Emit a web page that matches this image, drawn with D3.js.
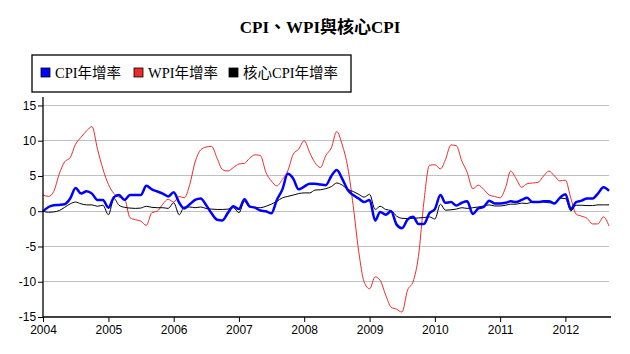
<!DOCTYPE html>
<html>
<head>
<meta charset="utf-8">
<script src="https://cdn.jsdelivr.net/npm/d3@7"></script>
<style>
  body { margin: 0; background: #fff; }
  svg { display: block; }
</style>
</head>
<body>
<div id="chart"></div>
<script>
// monthly data, Jan 2004 .. Sep 2012
const startMonth = "2004-01";
const seriesNames = ["CPI年增率", "WPI年增率", "核心CPI年增率"];
const seriesColors = ["#0000ff", "#ee2a2a", "#000000"];

const cpi = [
  0.0, 0.6, 0.85, 0.9, 1.0, 1.8, 3.3, 2.5, 2.85, 2.5, 1.6, 1.6,
  0.5, 2.0, 2.3, 1.6, 2.3, 2.3, 2.3, 3.6, 3.1, 2.8, 2.5, 2.1,
  2.7, 1.2, 0.4, 1.0, 1.6, 1.8, 0.9, -0.3, -1.2, -1.3, -0.2, 0.7,
  0.3, 1.7, 0.7, 0.5, 0.1, 0.0, -0.3, 1.6, 3.1, 5.3, 4.6, 3.1,
  3.5, 3.9, 3.9, 3.8, 3.7, 5.0, 5.85, 4.6, 3.0, 2.3, 1.8, 1.3,
  1.6, -1.3, -0.1, -0.5, 0.0, -1.9, -2.4, -1.2, -0.8, -1.8, -1.8, -0.3,
  0.3, 2.3, 1.2, 1.3, 0.8, 1.2, 1.4, -0.4, 0.4, 0.6, 1.5, 1.1,
  1.1, 1.2, 1.4, 1.3, 1.6, 1.9, 1.3, 1.3, 1.4, 1.4, 1.1, 1.9,
  2.4, 0.3, 1.3, 1.5, 1.8, 1.8, 2.5, 3.4, 2.9
];

const wpi = [
  2.3, 2.1, 2.8, 5.3, 7.0, 7.6, 9.5, 10.5, 11.4, 12.0, 8.8, 6.0,
  3.8, 2.5, 2.0, 1.8, -0.9, -1.2, -1.4, -2.0, -0.2, 0.0, 1.0, 1.7,
  1.3, 2.1, 1.9, 3.8, 7.0, 8.7, 9.1, 9.2, 7.5, 5.9, 5.7, 6.2,
  6.7, 6.8, 7.5, 8.0, 7.9, 5.5, 4.3, 3.6, 4.5, 5.7, 8.1, 8.8,
  10.0, 8.3, 6.9, 6.2, 7.9, 9.0, 11.3, 9.4, 6.2, 0.8, -5.7, -10.0,
  -11.0, -9.3, -9.8, -11.9, -13.6, -13.9, -14.3, -11.2, -10.0, -6.4, 1.4, 6.5,
  6.6, 6.0, 7.3, 9.4, 9.3, 7.1, 5.5, 3.2, 3.7, 3.1, 2.3, 2.1,
  1.9, 3.4, 5.7, 4.6, 3.4, 3.9, 4.0, 4.1, 5.0, 5.7, 5.0, 4.3,
  4.4, 1.8, -0.4, -0.7, -1.0, -1.8, -1.8, -0.8, -2.1
];

const coreCpi = [
  0.0, -0.15, -0.1, 0.1, 0.55, 1.05, 1.3, 1.05, 0.9, 0.9, 0.7, 0.85,
  -0.5, 1.8, 0.85, 0.55, 0.45, 0.4, 0.45, 0.7, 0.55, 0.5, 0.5, 0.4,
  1.2, -0.5, 0.6, 0.6, 0.5, 0.6, 0.4, 0.3, 0.25, 0.25, 0.3, 0.5,
  -0.2, 1.4, 0.6, 0.5, 0.5, 0.7, 1.0, 1.4, 1.9, 2.1, 2.3, 2.5,
  2.6, 2.6, 3.0, 3.05, 3.2, 3.5, 4.0, 3.7, 3.1, 2.8, 2.4, 2.0,
  2.4, 0.25, 0.7, 0.25, 0.1, -0.7, -1.0, -1.05, -1.0, -0.95, -0.9, -0.8,
  -1.1, 1.0, 0.15, 0.2, 0.3, 0.5, 0.4, 0.5, 0.6, 0.75, 0.9, 0.75,
  0.75, 0.85, 1.0, 1.0, 1.15, 1.1, 1.3, 1.3, 1.3, 1.2, 1.2, 1.85,
  1.8, 0.05, 0.85, 0.85, 0.8, 0.8, 0.9, 0.9, 0.9
];

const yTicks = [-15, -10, -5, 0, 5, 10, 15];
const xTickYears = [2004, 2005, 2006, 2007, 2008, 2009, 2010, 2011, 2012];

const width = 630, height = 354;
const plot = { left: 43, right: 609, top: 97, bottom: 317 };

const parse = d3.timeParse("%Y-%m");
const start = parse(startMonth);
const dates = cpi.map((_, i) => d3.timeMonth.offset(start, i));

const x = d3.scaleTime()
    .domain(d3.extent(dates))
    .range([plot.left, plot.right]);

const y = d3.scaleLinear()
    .domain([-15, 16.2])
    .range([plot.bottom, plot.top]);

const svg = d3.select("#chart")
    .append("svg")
    .attr("width", width)
    .attr("height", height);

svg.append("rect").attr("width", width).attr("height", height).attr("fill", "#fff");

// title
svg.append("text")
    .attr("x", 320)
    .attr("y", 33)
    .attr("text-anchor", "middle")
    .attr("font-family", "'Liberation Serif', 'Noto Sans CJK TC', serif")
    .attr("font-size", 17)
    .attr("font-weight", "bold")
    .text("CPI、WPI與核心CPI");

// gridlines
svg.append("g")
    .selectAll("line")
    .data(yTicks.filter(d => d > -15))
    .join("line")
    .attr("x1", plot.left)
    .attr("x2", plot.right)
    .attr("y1", d => y(d))
    .attr("y2", d => y(d))
    .attr("stroke", "#c0c0c0")
    .attr("stroke-width", 1)
    .attr("shape-rendering", "crispEdges");

// lines
const line = d3.line()
    .x((d, i) => x(dates[i]))
    .y(d => y(d))
    .curve(d3.curveMonotoneX);

svg.append("path")
    .datum(wpi)
    .attr("fill", "none")
    .attr("stroke", seriesColors[1])
    .attr("stroke-width", 1)
    .attr("d", line);

svg.append("path")
    .datum(coreCpi)
    .attr("fill", "none")
    .attr("stroke", seriesColors[2])
    .attr("stroke-width", 1)
    .attr("d", line);

svg.append("path")
    .datum(cpi)
    .attr("fill", "none")
    .attr("stroke", seriesColors[0])
    .attr("stroke-width", 2.5)
    .attr("d", line);

// axes
const yAxis = d3.axisLeft(y)
    .tickValues(yTicks)
    .tickSize(5)
    .tickFormat(d => String(d));

const xAxis = d3.axisBottom(x)
    .tickValues(xTickYears.map(yr => new Date(yr, 0, 1)))
    .tickSize(5)
    .tickFormat(d3.timeFormat("%Y"));

const gy = svg.append("g")
    .attr("transform", `translate(${plot.left},0)`)
    .call(yAxis);

const gx = svg.append("g")
    .attr("transform", `translate(0,${plot.bottom})`)
    .call(xAxis);

[gx, gy].forEach(g => {
    g.select(".domain").attr("stroke", "#000").attr("stroke-width", 1.3);
    g.selectAll(".tick line").attr("stroke", "#000");
    g.selectAll("text")
        .attr("font-family", "'Liberation Sans', Arial, sans-serif")
        .attr("font-size", 12)
        .attr("fill", "#000");
});
gy.select(".domain").attr("d", `M0,${plot.top}V${plot.bottom}`);
gx.select(".domain").attr("d", `M${plot.left},0H${plot.right + 2}`);
gy.selectAll("text").attr("dx", "0.1em");
gx.selectAll("text").attr("dy", "0.75em");

// legend
const legend = svg.append("g");
legend.append("rect")
    .attr("x", 32)
    .attr("y", 55)
    .attr("width", 319)
    .attr("height", 37)
    .attr("fill", "#fff")
    .attr("stroke", "#000")
    .attr("stroke-width", 1.3);

const legendX = [41, 134, 229];
seriesNames.forEach((name, i) => {
    legend.append("rect")
        .attr("x", legendX[i])
        .attr("y", 68)
        .attr("width", 9)
        .attr("height", 9)
        .attr("fill", seriesColors[i])
        .attr("stroke", "#000")
        .attr("stroke-width", 0.8);
    legend.append("text")
        .attr("x", legendX[i] + 14)
        .attr("y", 78)
        .attr("font-family", "'Liberation Serif', 'Noto Sans CJK TC', serif")
        .attr("font-size", 14.5)
        .text(name);
});
</script>
</body>
</html>
